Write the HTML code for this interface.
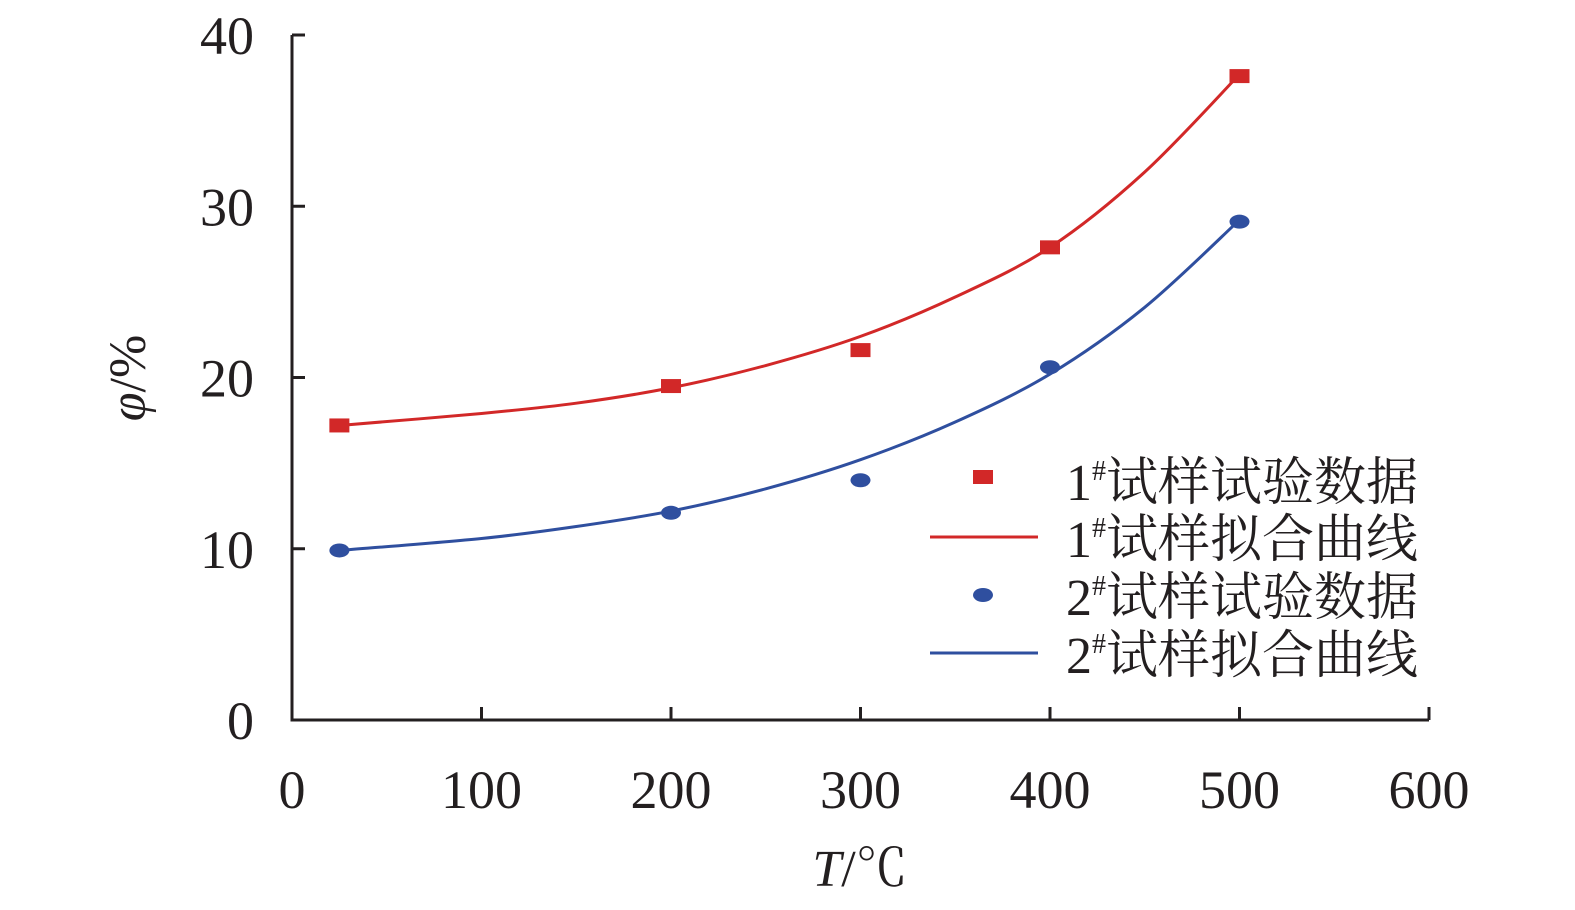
<!DOCTYPE html>
<html><head><meta charset="utf-8"><style>
html,body{margin:0;padding:0;background:#fff;width:1575px;height:910px;overflow:hidden}
svg text{font-family:"Liberation Serif","Noto Serif CJK SC",serif;fill:#231f20}
</style></head><body>
<svg id="chart" width="1575" height="910" xmlns="http://www.w3.org/2000/svg">
<g id="axes"></g>
<g id="series"></g>
<g id="legend">
  <rect x="973" y="470" width="20" height="14" fill="#d22828"/>
  <text x="1066" y="500" font-size="52">1<tspan font-size="28" dy="-20">#</tspan><tspan dy="20">试样试验数据</tspan></text>
  <line x1="930" y1="537" x2="1038" y2="537" stroke="#d22828" stroke-width="3"/>
  <text x="1066" y="557" font-size="52">1<tspan font-size="28" dy="-20">#</tspan><tspan dy="20">试样拟合曲线</tspan></text>
  <ellipse cx="983" cy="595" rx="10" ry="7" fill="#2f4f9f"/>
  <text x="1066" y="615" font-size="52">2<tspan font-size="28" dy="-20">#</tspan><tspan dy="20">试样试验数据</tspan></text>
  <line x1="930" y1="653" x2="1038" y2="653" stroke="#2f4f9f" stroke-width="3"/>
  <text x="1066" y="673" font-size="52">2<tspan font-size="28" dy="-20">#</tspan><tspan dy="20">试样拟合曲线</tspan></text>
</g>
<text transform="translate(145,378) rotate(-90)" text-anchor="middle" font-size="52" font-style="italic">φ<tspan font-style="normal">/%</tspan></text>
<text x="860" y="886" text-anchor="middle" font-size="52"><tspan font-style="italic">T</tspan>/℃</text>
</svg>
<script>
const xTicks=[0,100,200,300,400,500,600];
const yTicks=[0,10,20,30,40];
const dataX=[25,200,300,400,500];
const data1=[17.2,19.5,21.6,27.6,37.6];
const data2=[9.9,12.1,14.0,20.6,29.1];
const fitX=[25,100,150,200,250,300,350,400,450,500];
const fit1=[17.2,17.9,18.5,19.4,20.7,22.4,24.7,27.6,32.0,37.7];
const fit2=[9.9,10.6,11.3,12.2,13.5,15.2,17.4,20.2,24.1,29.2];
const NS='http://www.w3.org/2000/svg';
const X0=292,X1=1429,Y0=720,Y1=35;
const sx=v=>X0+(v-0)/600*(X1-X0);
const sy=v=>Y0-(v-0)/40*(Y0-Y1);
const axes=document.getElementById('axes'),series=document.getElementById('series');
function mk(t,a,p){const e=document.createElementNS(NS,t);for(const k in a)e.setAttribute(k,a[k]);p.appendChild(e);return e;}
let e=mk('path',{d:`M${X0},${Y1} V${Y0} H${X1}`,fill:'none',stroke:'#231f20','stroke-width':3},axes);


xTicks.forEach(v=>{
  const l=mk('line',{x1:sx(v),x2:sx(v),y1:Y0,y2:Y0-13,stroke:'#231f20','stroke-width':3},axes);
  
  
  const t=mk('text',{x:sx(v),y:808,'text-anchor':'middle','font-size':54},axes);
  t.textContent=v;
  
  
});
yTicks.forEach(v=>{
  const l=mk('line',{x1:X0,x2:X0+13,y1:sy(v),y2:sy(v),stroke:'#231f20','stroke-width':3},axes);
  
  
  const t=mk('text',{x:254,y:sy(v)+19,'text-anchor':'end','font-size':54},axes);
  t.textContent=v;
  
  
});
function curve(xs,ys){
  const p=xs.map((x,i)=>[sx(x),sy(ys[i])]);
  let d=`M${p[0][0]},${p[0][1]}`;
  for(let i=0;i<p.length-1;i++){
    const a=p[i-1]||p[i],b=p[i],c=p[i+1],n=p[i+2]||c;
    d+=` C${b[0]+(c[0]-a[0])/6},${b[1]+(c[1]-a[1])/6} ${c[0]-(n[0]-b[0])/6},${c[1]-(n[1]-b[1])/6} ${c[0]},${c[1]}`;
  }
  return d;
}
e=mk('path',{d:curve(fitX,fit1),fill:'none',stroke:'#d22828','stroke-width':3},series);


e=mk('path',{d:curve(fitX,fit2),fill:'none',stroke:'#2f4f9f','stroke-width':3},series);


dataX.forEach((x,i)=>{
  const r=mk('rect',{x:sx(x)-10,y:sy(data1[i])-7,width:20,height:14,fill:'#d22828'},series);
  
  
  const c=mk('ellipse',{cx:sx(x),cy:sy(data2[i]),rx:10,ry:7,fill:'#2f4f9f'},series);
  
  
});
</script>
</body></html>
